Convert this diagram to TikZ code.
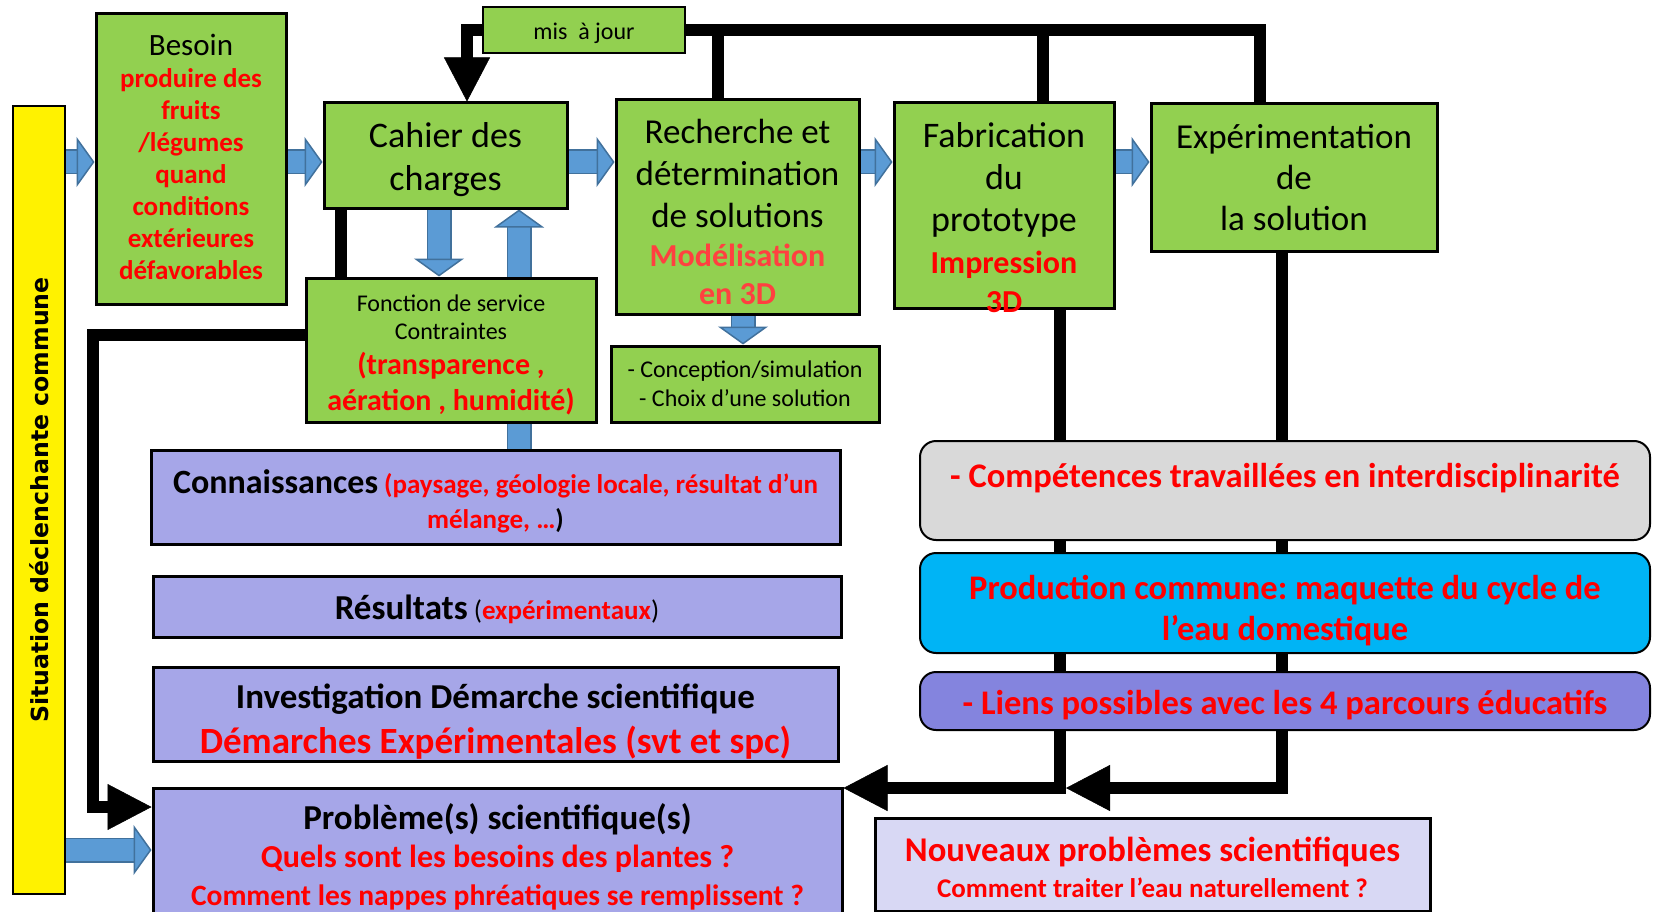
\documentclass[tikz,border=0pt]{standalone}
\usepackage{fontspec}
\setmainfont{Carlito}
\newfontfamily\barfont{DejaVu Sans}
\usepackage{graphicx}
\usetikzlibrary{arrows.meta}

\definecolor{boxgreen}{RGB}{146,208,80}
\definecolor{arrowblue}{RGB}{91,155,213}
\definecolor{arrowedge}{RGB}{65,113,156}
\definecolor{lavender}{RGB}{166,166,232}
\definecolor{lienspurple}{RGB}{132,132,222}
\definecolor{paleblue}{RGB}{216,216,244}
\definecolor{prodcyan}{RGB}{0,180,245}
\definecolor{softgray}{RGB}{217,217,217}
\definecolor{textred}{RGB}{255,0,0}
\definecolor{lightred}{RGB}{255,64,64}

\pgfdeclarelayer{bg}
\pgfsetlayers{bg,main}

\frenchspacing
\newcommand{\fs}[2]{\fontsize{#1}{#2}\selectfont}
\newcommand{\rb}[1]{\textcolor{textred}{\bfseries #1}}
\newcommand{\firstgap}[1]{\rule{0pt}{#1}}

\tikzset{
  greenbox/.style={draw=black, line width=3pt, fill=boxgreen, align=center, inner sep=2pt},
  purplebox/.style={draw=black, line width=3pt, fill=lavender, align=center, inner sep=2pt},
  roundbox/.style={draw=black, line width=2pt, rounded corners=16pt, align=center, inner sep=2pt},
  yellowbar/.style={draw=black, line width=1.5pt, fill=yellow, inner sep=0pt},
  blackline/.style={draw=black, line width=12pt, line join=miter},
  blackarrow/.style={blackline, -{Triangle[length=44pt,width=46pt,line width=0.5pt]}},
  bluearrow/.style={draw=arrowblue, line width=22pt,
    -{Triangle[length=18pt,width=50pt,line width=1.5pt,color=arrowedge,fill=arrowblue]},
    preaction={draw=arrowedge, line width=25pt, -, shorten >=17pt}},
  bluebar/.style={draw=arrowblue, line width=22pt, preaction={draw=arrowedge, line width=25pt}}
}

\begin{document}
\begin{tikzpicture}[x=1pt, y=-1pt]
  \useasboundingbox (0,0) rectangle (1653,912);

  % ligne du haut
  \node[yellowbar, minimum width=52pt, minimum height=788pt] (situation) at (39,500)
    {\rotatebox{90}{\barfont\bfseries\fs{23.6}{26}Situation déclenchante commune}};
  \node[greenbox, minimum width=190pt, minimum height=290pt, font=\fs{27}{32}] (besoin) at (191,159)
    {{\fs{31}{32}Besoin}\\\rb{produire des}\\\rb{fruits}\\\rb{/légumes}\\\rb{quand}\\\rb{conditions}\\\rb{extérieures}\\\rb{défavorables}\rule[-5pt]{0pt}{5pt}};
  \node[greenbox, minimum width=243pt, minimum height=105pt, font=\fs{36}{43}] (cahier) at (445.5,155.5)
    {\firstgap{34pt}Cahier des\\charges};
  \node[greenbox, line width=2.5pt, minimum width=202pt, minimum height=46pt, font=\fs{24}{26}] (majour) at (584,30)
    {\firstgap{23pt}mis\ \ à jour};
  \node[greenbox, minimum width=243pt, minimum height=214pt, font=\fs{35}{42}] (recherche) at (737.5,207)
    {\firstgap{35pt}Recherche et\\détermination\\de solutions\\[-3pt]\textcolor{lightred}{\bfseries\fs{32}{40}Modélisation}\\[-4pt]\textcolor{lightred}{\bfseries\fs{32}{40}en 3D}};
  \node[greenbox, minimum width=220pt, minimum height=205pt] (fabrication) at (1004,205.5) {};
  \node[align=center, font=\fs{36}{42}] (fabtext) at ([yshift=-12pt]fabrication.center)
    {Fabrication\\du\\prototype\\\rb{\fs{32}{40}Impression}\\[-3pt]\rb{\fs{32}{40}3D}};
  \node[greenbox, minimum width=286pt, minimum height=147pt, font=\fs{35}{41}] (experim) at (1294,177.5)
    {Expérimentation\\de\\la solution};

  % contraintes
  \node[greenbox, minimum width=290pt, minimum height=144pt, font=\fs{24}{28}] (fonction) at (451,350)
    {\firstgap{27pt}Fonction de service\\Contraintes\\[7pt]\rb{\fs{30}{36}(transparence ,}\\[8pt]\rb{\fs{30}{36}aération , humidité)}};
  \node[greenbox, minimum width=268pt, minimum height=76pt, font=\fs{24}{29}] (conception) at (745,384)
    {- Conception/simulation\\- Choix d’une solution};

  % colonne de gauche
  \node[purplebox, minimum width=689pt, minimum height=94pt, font=\fs{27}{35}] (connaissances) at (495.5,497)
    {\firstgap{33pt}{\bfseries\fs{34}{35}Connaissances} \rb{(paysage, géologie locale, résultat d’un}\\\rb{mélange, …}\textbf{)}};
  \node[purplebox, minimum width=688pt, minimum height=61pt, font=\fs{27}{34}] (resultats) at (497,606.5)
    {\firstgap{31pt}{\bfseries\fs{35}{34}Résultats} (\rb{expérimentaux})};
  \node[purplebox, inner ysep=0pt, minimum width=685pt, minimum height=94pt, font=\fs{35}{45}] (investigation) at (495.5,714)
    {\firstgap{39pt}\textbf{Investigation Démarche scientifique}\\\rb{\fs{37}{45}Démarches Expérimentales (svt et spc)}};
  \node[purplebox, minimum width=689pt, minimum height=138pt, font=\fs{32}{38}] (probleme) at (497.5,857)
    {{\bfseries\fs{35}{38}Problème(s) scientifique(s)}\\\rb{Quels sont les besoins des plantes ?}\\\rb{\fs{29.5}{38}Comment les nappes phréatiques se remplissent ?}};

  % colonne de droite
  \node[roundbox, fill=softgray, minimum width=730pt, minimum height=99pt, font=\fs{34.5}{40}] (competences) at (1285,490.5)
    {\firstgap{34pt}\rb{- Compétences travaillées en interdisciplinarité}\\\mbox{}};
  \node[roundbox, fill=prodcyan, minimum width=730pt, minimum height=100pt, font=\fs{34.5}{41}] (production) at (1285,603)
    {\firstgap{39pt}\rb{Production commune: maquette du cycle de}\\\rb{l’eau domestique}};
  \node[roundbox, fill=lienspurple, minimum width=730pt, minimum height=58pt, font=\fs{34.5}{40}] (liens) at (1285,701)
    {\firstgap{33pt}\rb{- Liens possibles avec les 4 parcours éducatifs}};
  \node[purplebox, fill=paleblue, minimum width=555pt, minimum height=93pt, font=\fs{27}{36}] (nouveaux) at (1152.5,864.5)
    {\firstgap{30pt}\rb{\fs{34.7}{36}Nouveaux problèmes scientifiques}\\\rb{Comment traiter l’eau naturellement ?}};

  \coordinate (toprow) at (0,162);
  \coordinate (lowrow) at (0,850);
  \coordinate (lbend) at (93,807);
  \coordinate (fabfoot) at (1060,788);

  \begin{pgfonlayer}{bg}
    \fill[white] (0,0) rectangle (1653,912);

    % fleches bleues
    \draw[bluearrow] (situation.east |- toprow) -- (besoin.west |- toprow);
    \draw[bluearrow] (besoin.east |- toprow) -- (cahier.west |- toprow);
    \draw[bluearrow] (cahier.east |- toprow) -- (recherche.west |- toprow);
    \draw[bluearrow] (recherche.east |- toprow) -- (fabrication.west |- toprow);
    \draw[bluearrow] (fabrication.east |- toprow) -- (experim.west |- toprow);
    \draw[bluearrow] ([xshift=-6.5pt]cahier.south) -- ([xshift=-6.5pt]cahier.south |- fonction.north);
    \draw[bluearrow] ([xshift=68pt]fonction.north) -- ([xshift=68pt]fonction.north |- cahier.south);
    \draw[bluebar] ([xshift=68pt]fonction.south) -- ([xshift=68pt]fonction.south |- connaissances.north);
    \draw[bluearrow] ([xshift=5.5pt]recherche.south) -- ([xshift=5.5pt]recherche.south |- conception.north);
    \draw[bluearrow] (situation.east |- lowrow) -- (probleme.west |- lowrow);

    % retours en noir
    \draw[blackline] ([xshift=-34pt]experim.north) |- (majour.east);
    \draw[blackline] ([xshift=-19.5pt]recherche.north) -- ([xshift=-19.5pt]recherche.north |- majour.east);
    \draw[blackline] ([xshift=39pt]fabrication.north) -- ([xshift=39pt]fabrication.north |- majour.east);
    \draw[blackarrow] (majour.west) -| ([xshift=21.5pt]cahier.north);
    \draw[blackline] ([xshift=18pt]cahier.south west) -- ([xshift=18pt]cahier.south west |- fonction.north);
    \draw[blackarrow] ([yshift=15pt]fonction.west) -| (lbend) -- (lbend -| probleme.west);
    \draw[blackarrow] ([xshift=56pt]fabrication.south) |- (fabfoot -| probleme.east);
    \draw[blackarrow] ([xshift=-12pt]experim.south) |- ([xshift=6pt]fabfoot);
  \end{pgfonlayer}

\end{tikzpicture}
\end{document}
